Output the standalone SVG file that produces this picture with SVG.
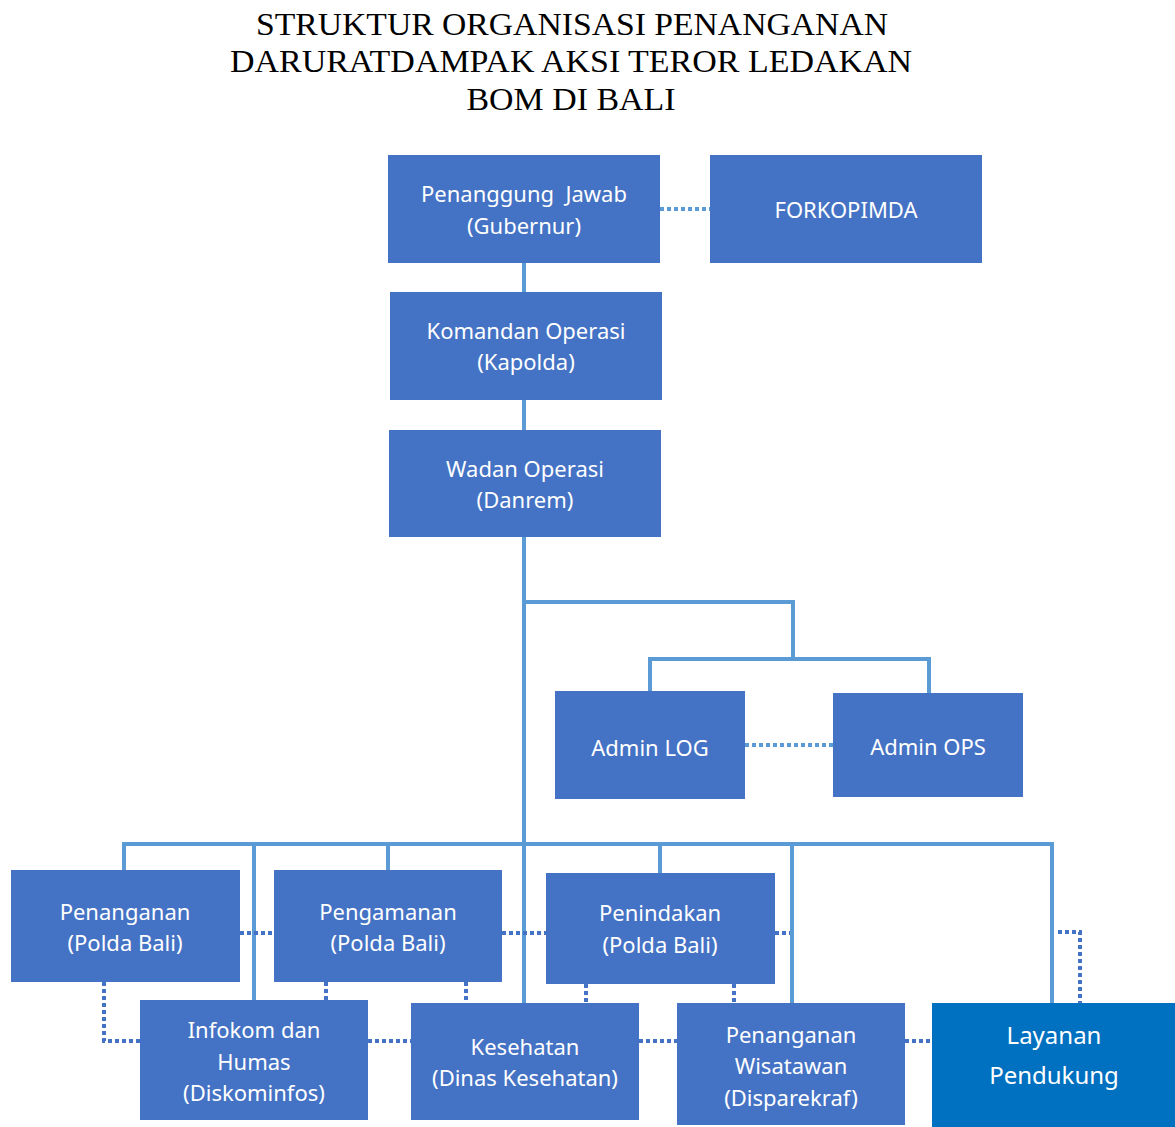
<svg xmlns="http://www.w3.org/2000/svg" width="1175" height="1127" viewBox="0 0 1175 1127">
<style>
.title{font-family:"Liberation Serif",serif;font-size:31px;fill:#000;text-anchor:middle}
.box{fill:#4472C4}
.box2{fill:#0070C0}
.t{font-family:"Noto Sans","Open Sans",sans-serif;font-size:22px;fill:#fff;text-anchor:middle}
.t2{font-family:"Noto Sans","Open Sans",sans-serif;font-size:24px;fill:#fff;text-anchor:middle}
.ln{fill:none;stroke:#5B9BD5;stroke-width:4}
.dot{fill:none;stroke:#4472C4;stroke-width:4;stroke-dasharray:4 3}
.dotl{fill:none;stroke:#5B9BD5;stroke-width:4;stroke-dasharray:4 3}
</style>
<rect width="1175" height="1127" fill="#fff"/>
<g id="title">
<text class="title" x="572" y="35" textLength="632" lengthAdjust="spacingAndGlyphs">STRUKTUR ORGANISASI PENANGANAN</text>
<text class="title" x="571" y="72" textLength="682" lengthAdjust="spacingAndGlyphs">DARURATDAMPAK AKSI TEROR LEDAKAN</text>
<text class="title" x="571" y="110" textLength="209" lengthAdjust="spacingAndGlyphs">BOM DI BALI</text>
</g>
<g id="connectors">
<path class="ln" d="M524 263V292M524 400V430M524 537V1003"/>
<path class="ln" d="M524 602H793V659M650 691V659H929V693"/>
<path class="ln" d="M124 880V844H1052V1003M254 844V1000M388 844V870M660 844V873M792 844V1003"/>
<path class="dotl" d="M660 209H710M745 745H833"/>
<path class="dot" d="M240 933H274M502 933H546M775 933H790M1058 932H1080V1003"/>
<path class="dot" d="M104 982V1041H140M326 982V1000M466 982V1003M586 984V1003M734 984V1003"/>
<path class="dot" d="M368 1041H411M639 1041H677M905 1041H932"/>
</g>
<g id="n-gubernur"><rect class="box" x="388" y="155" width="272" height="108"/><text class="t" x="524" y="202" xml:space="preserve">Penanggung  Jawab</text><text class="t" x="524" y="234">(Gubernur)</text></g>
<g id="n-forkopimda"><rect class="box" x="710" y="155" width="272" height="108"/><text class="t" x="846" y="218">FORKOPIMDA</text></g>
<g id="n-komandan"><rect class="box" x="390" y="292" width="272" height="108"/><text class="t" x="526" y="339">Komandan Operasi</text><text class="t" x="526" y="370">(Kapolda)</text></g>
<g id="n-wadan"><rect class="box" x="389" y="430" width="272" height="107"/><text class="t" x="525" y="477">Wadan Operasi</text><text class="t" x="525" y="508">(Danrem)</text></g>
<g id="n-adminlog"><rect class="box" x="555" y="691" width="190" height="108"/><text class="t" x="650" y="756">Admin LOG</text></g>
<g id="n-adminops"><rect class="box" x="833" y="693" width="190" height="104"/><text class="t" x="928" y="755">Admin OPS</text></g>
<g id="n-penanganan"><rect class="box" x="11" y="870" width="229" height="112"/><text class="t" x="125" y="920">Penanganan</text><text class="t" x="125" y="951">(Polda Bali)</text></g>
<g id="n-pengamanan"><rect class="box" x="274" y="870" width="228" height="112"/><text class="t" x="388" y="920">Pengamanan</text><text class="t" x="388" y="951">(Polda Bali)</text></g>
<g id="n-penindakan"><rect class="box" x="546" y="873" width="229" height="111"/><text class="t" x="660" y="921">Penindakan</text><text class="t" x="660" y="953">(Polda Bali)</text></g>
<g id="n-infokom"><rect class="box" x="140" y="1000" width="228" height="120"/><text class="t" x="254" y="1038">Infokom dan</text><text class="t" x="254" y="1070">Humas</text><text class="t" x="254" y="1101">(Diskominfos)</text></g>
<g id="n-kesehatan"><rect class="box" x="411" y="1003" width="228" height="117"/><text class="t" x="525" y="1055">Kesehatan</text><text class="t" x="525" y="1086">(Dinas Kesehatan)</text></g>
<g id="n-wisatawan"><rect class="box" x="677" y="1003" width="228" height="122"/><text class="t" x="791" y="1043">Penanganan</text><text class="t" x="791" y="1074">Wisatawan</text><text class="t" x="791" y="1106">(Disparekraf)</text></g>
<g id="n-layanan"><rect class="box2" x="932" y="1003" width="243" height="124"/><text class="t2" x="1054" y="1044">Layanan</text><text class="t2" x="1054" y="1084">Pendukung</text></g>
</svg>
